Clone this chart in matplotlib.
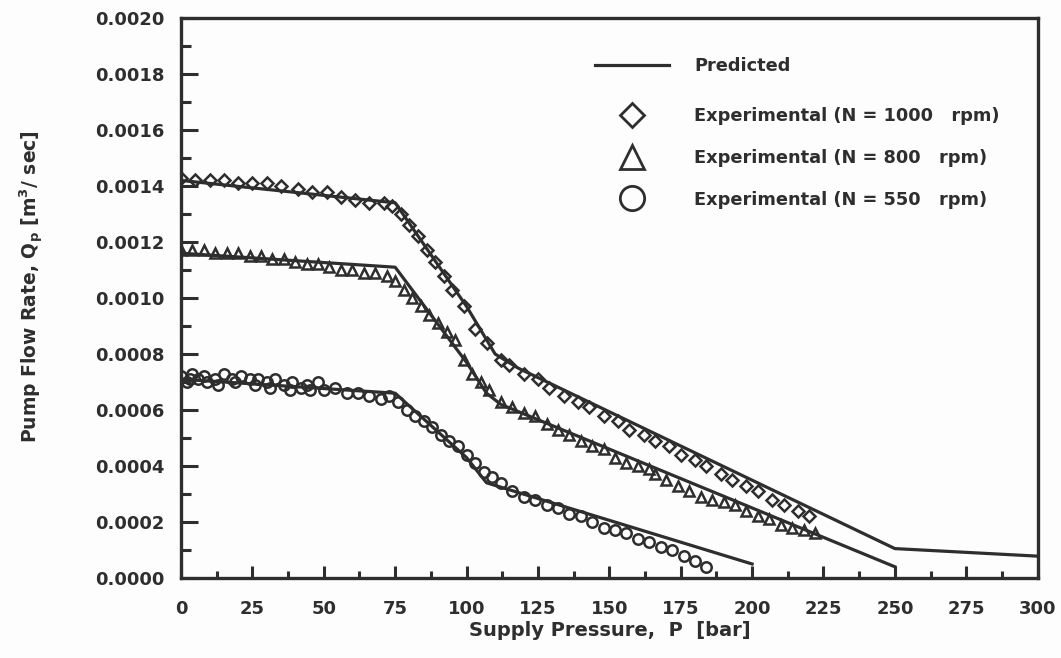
import numpy as np
import matplotlib
matplotlib.use("Agg")
from matplotlib import pyplot as plt
from matplotlib.lines import Line2D
from matplotlib.ticker import MultipleLocator, FormatStrFormatter

INK = "#2e2e2e"

# Predicted (model) curves, supply pressure [bar] vs flow rate [m^3/s]
pred1000_p = [0, 75, 100, 110, 118, 250, 300]
pred1000_q = [0.00142, 0.00134, 0.00097, 0.00080, 0.00075, 0.000105, 0.000078]
pred800_p = [0, 75, 100, 107, 112, 250]
pred800_q = [0.00116, 0.00111, 0.00077, 0.00066, 0.00062, 0.00004]
pred550_p = [0, 75, 100, 107, 200]
pred550_q = [0.00071, 0.00066, 0.00043, 0.00034, 0.00005]

# Experimental, N = 1000 rpm
exp1000_p = [0, 5, 10, 15, 20, 25, 30, 35, 41, 46,
             51, 56, 61, 66, 71, 74, 77, 80, 83, 86,
             89, 92, 95, 99, 103, 107, 112, 115, 120, 125,
             129, 134, 139, 143, 148, 153, 157, 162, 166, 171,
             175, 180, 184, 189, 193, 198, 202, 207, 211, 216,
             220]
exp1000_q = [0.00143, 0.00142, 0.00142, 0.00142, 0.00141, 0.00141, 0.00141, 0.00140, 0.00139, 0.00138,
             0.00138, 0.00136, 0.00135, 0.00134, 0.00134, 0.00133, 0.00130, 0.00126, 0.00122, 0.00117,
             0.00113, 0.00108, 0.00103, 0.00097, 0.00089, 0.00084, 0.00078, 0.00076, 0.00073, 0.00071,
             0.00068, 0.00065, 0.00063, 0.00061, 0.00058, 0.00056, 0.00053, 0.00051, 0.00049, 0.00047,
             0.00044, 0.00042, 0.00040, 0.00037, 0.00035, 0.00033, 0.00031, 0.00028, 0.00026, 0.00024,
             0.00022]

# Experimental, N = 800 rpm
exp800_p = [0, 4, 8, 12, 16, 20, 24, 28, 32, 36,
            40, 44, 48, 52, 56, 60, 64, 68, 72, 75,
            78, 81, 84, 87, 90, 93, 96, 99, 102, 105,
            108, 112, 116, 120, 124, 128, 132, 136, 140, 144,
            148, 152, 156, 160, 164, 166, 170, 174, 178, 182,
            186, 190, 194, 198, 202, 206, 210, 214, 218, 222]
exp800_q = [0.00117, 0.00117, 0.00117, 0.00116, 0.00116, 0.00116, 0.00115, 0.00115, 0.00114, 0.00114,
            0.00113, 0.00112, 0.00112, 0.00111, 0.00110, 0.00110, 0.00109, 0.00109, 0.00108, 0.00106,
            0.00103, 0.00100, 0.00097, 0.00094, 0.00091, 0.00088, 0.00085, 0.00078, 0.00073, 0.00070,
            0.00067, 0.00063, 0.00061, 0.00059, 0.00058, 0.00055, 0.00053, 0.00051, 0.00049, 0.00047,
            0.00046, 0.00043, 0.00041, 0.00040, 0.00039, 0.00037, 0.00035, 0.00033, 0.00031, 0.00029,
            0.00028, 0.00027, 0.00026, 0.00024, 0.00022, 0.00021, 0.00019, 0.00018, 0.00017, 0.00016]

# Experimental, N = 550 rpm
exp550_p = [0, 2, 4, 6, 9, 12, 15, 18, 21, 24,
            27, 30, 33, 36, 39, 42, 45, 48, 50, 54,
            58, 62, 66, 70, 73, 76, 79, 82, 85, 88,
            91, 94, 97, 100, 103, 106, 109, 112, 116, 120,
            124, 128, 132, 136, 140, 144, 148, 152, 156, 160,
            164, 168, 172, 176, 180, 184,
            3, 8, 13, 19, 26, 31, 38, 44]
exp550_q = [0.00072, 0.00070, 0.00073, 0.00071, 0.00070, 0.00071, 0.00073, 0.00071, 0.00072, 0.00071,
            0.00071, 0.00070, 0.00071, 0.00069, 0.00070, 0.00068, 0.00067, 0.00070, 0.00067, 0.00068,
            0.00066, 0.00066, 0.00065, 0.00064, 0.00065, 0.00063, 0.00060, 0.00058, 0.00056, 0.00054,
            0.00051, 0.00049, 0.00047, 0.00044, 0.00041, 0.00038, 0.00036, 0.00034, 0.00031, 0.00029,
            0.00028, 0.00026, 0.00025, 0.00023, 0.00022, 0.00020, 0.00018, 0.00017, 0.00016, 0.00014,
            0.00013, 0.00011, 0.00010, 0.00008, 0.00006, 0.00004,
            0.00071, 0.00072, 0.00069, 0.00070, 0.00069, 0.00068, 0.00067, 0.00069]

x_ticks = np.arange(0, 301, 25)
exp_labels = ["Experimental (N = 1000   rpm)",
              "Experimental (N = 800   rpm)",
              "Experimental (N = 550   rpm)"]

plt.rcParams["font.family"] = ["DejaVu Sans"]
plt.rcParams["font.weight"] = "bold"
plt.rcParams["mathtext.fontset"] = "dejavusans"
plt.rcParams["mathtext.default"] = "bf"

fig = plt.figure(figsize=(10.61, 6.58), dpi=100, facecolor="#fdfdfd")
ax = fig.add_axes([0.1706, 0.1216, 0.8074, 0.851], facecolor="#fdfdfd")

mk = dict(linestyle="none", markerfacecolor="none", markeredgecolor=INK,
          markeredgewidth=1.8, markersize=7.5)
line_kw = dict(color=INK, linewidth=2.3)

ln, = ax.plot(pred1000_p, pred1000_q, **line_kw)
ax.plot(pred800_p, pred800_q, **line_kw)
ax.plot(pred550_p, pred550_q, **line_kw)

ax.plot(exp1000_p, exp1000_q, marker="D", **{**mk, "markersize": 6.5})
ax.plot(exp800_p, exp800_q, marker="^", **mk)
ax.plot(exp550_p, exp550_q, marker="o", **mk)

ax.set_xlim(0, 300)
ax.set_ylim(0, 0.0020)
ax.yaxis.set_major_locator(MultipleLocator(0.0002))
ax.yaxis.set_minor_locator(MultipleLocator(0.0001))
ax.yaxis.set_major_formatter(FormatStrFormatter("%.4f"))
ax.set_xticks(x_ticks)
ax.xaxis.set_minor_locator(MultipleLocator(12.5))
ax.tick_params(axis="x", which="major", direction="in", length=9, width=2.2,
               colors=INK, labelsize=13, pad=16)
ax.tick_params(axis="x", which="minor", direction="in", length=5, width=2.2, colors=INK)
ax.tick_params(axis="y", which="major", direction="in", length=12, width=2.2,
               colors=INK, labelsize=13, pad=12)
ax.tick_params(axis="y", which="minor", direction="in", length=7, width=2.2, colors=INK)
for lab in ax.get_xticklabels() + ax.get_yticklabels():
    lab.set_fontweight("bold")
for s in ax.spines.values():
    s.set_linewidth(2.4)
    s.set_color(INK)

ax.set_xlabel("Supply Pressure,  P  [bar]", fontsize=14, fontweight="bold",
              color=INK, labelpad=2)
ax.set_ylabel(r"Pump Flow Rate, Q$_\mathbf{p}$ [m$^\mathbf{3}$/ sec]", fontsize=13.5,
              fontweight="bold", color=INK)
ax.yaxis.set_label_coords(-0.158, 0.52)

# legend: larger open markers than in the plot
leg_mk = dict(linestyle="none", markerfacecolor="none", markeredgecolor=INK,
              markeredgewidth=2.0)
h_d = Line2D([], [], marker="D", markersize=12.5, **leg_mk)
h_t = Line2D([], [], marker="^", markersize=17, **leg_mk)
h_c = Line2D([], [], marker="o", markersize=17.5, **leg_mk)

prop = {"weight": "bold", "size": 12.8}
leg1 = ax.legend([ln], ["Predicted"], loc="upper left", bbox_to_anchor=(0.483, 0.93),
                 frameon=False, borderpad=0, borderaxespad=0, handlelength=4.2,
                 handletextpad=1.4, prop=prop)
ax.add_artist(leg1)
leg2 = ax.legend([h_d, h_t, h_c], exp_labels,
                 loc="upper left", bbox_to_anchor=(0.483, 0.841), frameon=False,
                 borderpad=0, borderaxespad=0, handlelength=4.2, handletextpad=1.4,
                 labelspacing=1.34, numpoints=1, prop=prop)
for leg in (leg1, leg2):
    for txt in leg.get_texts():
        txt.set_color(INK)

fig.savefig("out.png", dpi=100, facecolor=fig.get_facecolor())
